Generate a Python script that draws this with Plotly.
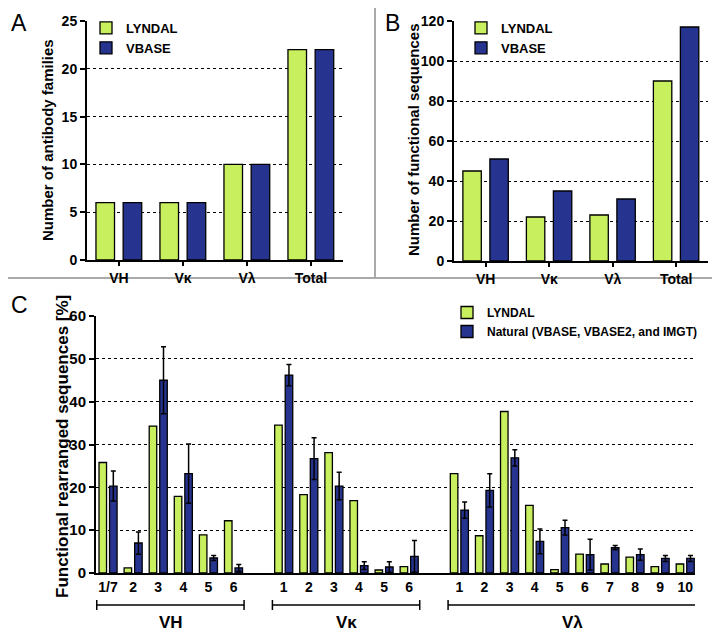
import plotly.graph_objects as go

# ---------------- data ----------------
# Panel A / B categories
cats_ab = ["VH", "Vκ", "Vλ", "Total"]
families_lyndal = [6, 6, 10, 22]
families_vbase = [6, 6, 10, 22]
functional_lyndal = [45, 22, 23, 90]
functional_vbase = [51, 35, 31, 117]

# Panel C
vh_labels = ["1/7", "2", "3", "4", "5", "6"]
vk_labels = ["1", "2", "3", "4", "5", "6"]
vl_labels = ["1", "2", "3", "4", "5", "6", "7", "8", "9", "10"]
vh_lyndal = [25.8, 1.2, 34.3, 17.9, 8.9, 12.2]
vh_natural = [20.3, 7.0, 45.0, 23.2, 3.5, 1.2]
vh_err = [3.5, 2.6, 7.8, 6.9, 0.6, 0.8]
vk_lyndal = [34.5, 18.3, 28.1, 16.9, 0.7, 1.5]
vk_natural = [46.2, 26.7, 20.3, 1.7, 1.4, 3.9]
vk_err = [2.5, 4.9, 3.2, 0.9, 1.2, 3.7]
vl_lyndal = [23.2, 8.7, 37.7, 15.8, 0.8, 4.4, 2.1, 3.7, 1.5, 2.1]
vl_natural = [14.7, 19.3, 26.9, 7.4, 10.6, 4.3, 5.9, 4.3, 3.4, 3.4]
vl_err = [1.9, 3.9, 1.9, 2.9, 1.7, 3.6, 0.5, 1.3, 0.7, 0.7]
group_names = ["VH", "Vκ", "Vλ"]

GREEN = "#c8ef5e"
BLUE = "#26348f"
FONT = "Liberation Sans, Arial, sans-serif"
W, H = 720, 642
OFF = 8  # page body margin

def px(xp):
    return (xp - OFF) / W

def py(yp):
    return (H - (yp - OFF)) / H

# category positions for panel C (one empty slot between groups)
groups = [(vh_labels, vh_lyndal, vh_natural, vh_err),
          (vk_labels, vk_lyndal, vk_natural, vk_err),
          (vl_labels, vl_lyndal, vl_natural, vl_err)]
c_x, c_lab, c_ly, c_nat, c_err, spans = [], [], [], [], [], []
pos = 0
for labels, ly, nat, err in groups:
    start = pos
    for i, lab in enumerate(labels):
        c_x.append(pos)
        c_lab.append(lab)
        c_ly.append(ly[i])
        c_nat.append(nat[i])
        c_err.append(err[i])
        pos += 1
    spans.append((start, pos - 1))
    pos += 1

ab_x = list(range(len(cats_ab)))

fig = go.Figure()
line = dict(color="black", width=1.3)

# Panel A
fig.add_trace(go.Bar(x=ab_x, y=families_lyndal, name="LYNDAL", marker=dict(color=GREEN, line=line),
                     offset=-0.36, width=0.29, xaxis="x", yaxis="y", legend="legend"))
fig.add_trace(go.Bar(x=ab_x, y=families_vbase, name="VBASE", marker=dict(color=BLUE, line=line),
                     offset=0.065, width=0.29, xaxis="x", yaxis="y", legend="legend"))
# Panel B
fig.add_trace(go.Bar(x=ab_x, y=functional_lyndal, name="LYNDAL", marker=dict(color=GREEN, line=line),
                     offset=-0.36, width=0.29, xaxis="x2", yaxis="y2", legend="legend2"))
fig.add_trace(go.Bar(x=ab_x, y=functional_vbase, name="VBASE", marker=dict(color=BLUE, line=line),
                     offset=0.065, width=0.29, xaxis="x2", yaxis="y2", legend="legend2"))
# Panel C
fig.add_trace(go.Bar(x=c_x, y=c_ly, name="LYNDAL", marker=dict(color=GREEN, line=line),
                     offset=-0.36, width=0.3, xaxis="x3", yaxis="y3", legend="legend3"))
fig.add_trace(go.Bar(x=c_x, y=c_nat, name="Natural (VBASE, VBASE2, and IMGT)",
                     marker=dict(color=BLUE, line=line),
                     error_y=dict(type="data", array=c_err, visible=True, color="black", thickness=1.5, width=2.5),
                     offset=0.06, width=0.3, xaxis="x3", yaxis="y3", legend="legend3"))

tickfont = dict(family=FONT, size=14, color="black", weight="bold")
common_y = dict(showline=True, linecolor="black", linewidth=2, ticks="outside", ticklen=5, tickwidth=2,
                tickcolor="black", showgrid=True, gridcolor="black", griddash="dot", gridwidth=1.4,
                zeroline=False, tickfont=tickfont, fixedrange=True, automargin=False)
common_x = dict(showline=True, linecolor="black", linewidth=2, showgrid=False,
                zeroline=False, tickfont=tickfont, fixedrange=True, automargin=False)

legfont = dict(family=FONT, size=13, color="black", weight="bold")
fig.update_layout(
    width=W, height=H, margin=dict(l=0, r=0, t=0, b=0, autoexpand=False),
    paper_bgcolor="white", plot_bgcolor="white", barmode="overlay",
    font=dict(family=FONT, color="black"),
    xaxis=dict(common_x, domain=[px(87), px(343)], range=[-0.5, 3.5],
               tickvals=ab_x, ticktext=cats_ab, anchor="y",
               ticks="outside", ticklen=4, tickwidth=1.5, tickcolor="black"),
    yaxis=dict(common_y, domain=[py(260), py(21)], range=[0, 25], dtick=5, anchor="x"),
    xaxis2=dict(common_x, domain=[px(454), px(708)], range=[-0.5, 3.5],
                tickvals=ab_x, ticktext=cats_ab, anchor="y2",
                ticks="outside", ticklen=4, tickwidth=1.5, tickcolor="black"),
    yaxis2=dict(common_y, domain=[py(261), py(21)], range=[0, 120], dtick=20, anchor="x2"),
    xaxis3=dict(common_x, domain=[px(96), px(695)], range=[-0.48, 23.39], ticks="",
                tickvals=c_x, ticktext=c_lab, anchor="y3"),
    yaxis3=dict(common_y, domain=[py(573), py(316)], range=[0, 60], dtick=10, anchor="x3",
                tickfont=dict(family=FONT, size=15, color="black", weight="bold")),
    legend=dict(x=px(86), y=py(13), xanchor="left", yanchor="top", bgcolor="rgba(0,0,0,0)",
                font=legfont, tracegroupgap=0),
    legend2=dict(x=px(461), y=py(13), xanchor="left", yanchor="top", bgcolor="rgba(0,0,0,0)",
                 font=legfont, tracegroupgap=0),
    legend3=dict(x=px(447), y=py(298), xanchor="left", yanchor="top", bgcolor="rgba(0,0,0,0)",
                 font=dict(family=FONT, size=12, color="black", weight="bold"), tracegroupgap=0),
    showlegend=True,
)

shapes = [
    dict(type="line", xref="paper", yref="paper", x0=0, x1=1, y0=py(278), y1=py(278),
         line=dict(color="#aaaaaa", width=2), layer="below"),
    dict(type="line", xref="paper", yref="paper", x0=px(375), x1=px(375), y0=py(278), y1=1,
         line=dict(color="#aaaaaa", width=2), layer="below"),
]

def ann(text, x, y, size, bold=True, angle=0, xref="paper"):
    f = dict(family=FONT, size=size, color="black")
    if bold:
        f["weight"] = "bold"
    return dict(text=text, x=x, y=y, xref=xref, yref="paper", showarrow=False, textangle=angle,
                xanchor="center", yanchor="middle", font=f)

annotations = [
    ann("A", px(19), py(23), 23, bold=False),
    ann("B", px(392), py(23), 23, bold=False),
    ann("C", px(19), py(305), 23, bold=False),
    ann("Number of antibody families", px(47), py(140), 15, angle=-90),
    ann("Number of functional sequences", px(413), py(140), 15, angle=-90),
    ann("Functional rearranged sequences [%]", px(62), py(447), 17, angle=-90),
]
for (s, e), name in zip(spans, group_names):
    x0, x1 = s - 0.45, e + 0.42
    shapes.append(dict(type="line", xref="x3", yref="paper", x0=x0, x1=x1, y0=py(605), y1=py(605),
                       line=dict(color="black", width=1.5)))
    for xx in (x0, x1):
        shapes.append(dict(type="line", xref="x3", yref="paper", x0=xx, x1=xx, y0=py(600), y1=py(610),
                           line=dict(color="black", width=1.5)))
    annotations.append(ann(name, (s + e) / 2, py(622), 17, xref="x3"))

fig.update_layout(shapes=shapes, annotations=annotations)
fig.write_html("out.html")
